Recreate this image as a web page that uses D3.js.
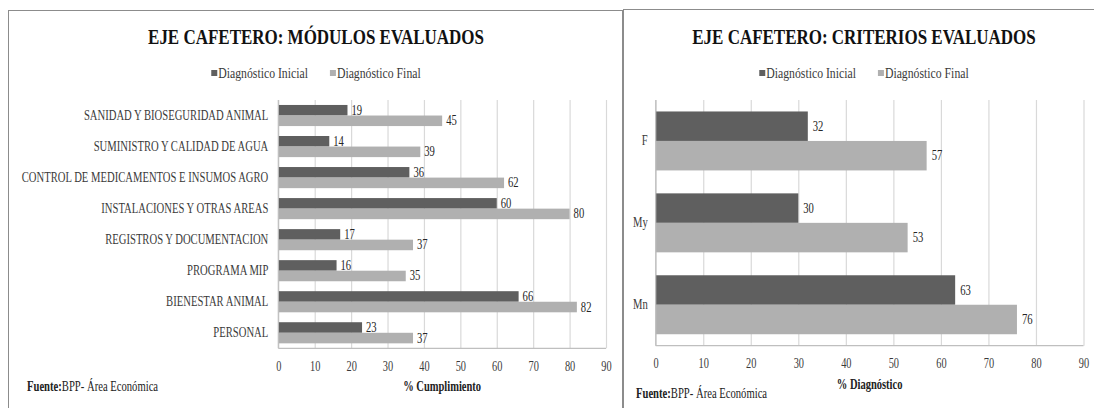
<!DOCTYPE html>
<html><head><meta charset="utf-8">
<script src="https://cdn.jsdelivr.net/npm/d3@7"></script>
<style>
html,body{margin:0;padding:0;background:#fff;}
svg{display:block;}
</style>
</head><body>
<svg id="c" width="1094" height="408"></svg>
<script>
// ---------- data ----------
const seriesNames = ["Diagnóstico Inicial", "Diagnóstico Final"];
const moduleCats = ["SANIDAD Y BIOSEGURIDAD ANIMAL","SUMINISTRO Y CALIDAD DE AGUA","CONTROL DE MEDICAMENTOS E INSUMOS AGRO","INSTALACIONES Y OTRAS AREAS","REGISTROS Y DOCUMENTACION","PROGRAMA MIP","BIENESTAR ANIMAL","PERSONAL"];
const moduleInicial = [19,14,36,60,17,16,66,23];
const moduleFinal   = [45,39,62,80,37,35,82,37];
const criteriaCats = ["F","My","Mn"];
const criteriaInicial = [32,30,63];
const criteriaFinal   = [57,53,76];
const xTicks = [0,10,20,30,40,50,60,70,80,90];

const FONT = '"Liberation Serif","Tinos","DejaVu Serif",serif';
const COLORS = ["#5f5f5f","#b0b0b0"];
const svg = d3.select("#c");

function txt(g, x, y, s, size, sx, opts={}) {
  const t = g.append("text")
    .attr("transform", `translate(${x},${y}) scale(${sx},1)`)
    .attr("font-size", size)
    .attr("font-family", FONT)
    .attr("fill", opts.fill || "#3a3a3a")
    .attr("text-anchor", opts.anchor || "start")
    .attr("dominant-baseline", "central")
    .attr("font-weight", opts.bold ? "bold" : "normal")
    .text(s);
  return t;
}

function panel(cfg) {
  const g = svg.append("g");
  g.append("rect").attr("x", cfg.box[0]+0.5).attr("y", cfg.box[1]+0.5)
    .attr("width", cfg.box[2]).attr("height", cfg.box[3])
    .attr("fill","#fff").attr("stroke","#8c8c8c").attr("stroke-width",1);

  // title
  txt(g, cfg.titleX, 37, cfg.title, 21.5, 0.79, {anchor:"middle", bold:true, fill:"#111"});

  // legend
  const lg = g.append("g");
  let cx = 0;
  const LSX = 0.84;
  seriesNames.forEach((n,i) => {
    const it = lg.append("g");
    it.append("rect").attr("x", 0).attr("y", -3).attr("width", 6).attr("height", 6).attr("fill", COLORS[i]);
    const t = txt(it, 7, 0, n, 14, LSX);
    const w = 7 + t.node().getComputedTextLength()*LSX;
    it.attr("transform", `translate(${cx},0)`);
    cx += w + 22;
  });
  const lw = cx - 22;
  lg.attr("transform", `translate(${cfg.titleX - lw/2},73)`);

  const [x0,x1] = cfg.xRange, [y0,y1] = cfg.yRange;
  const x = d3.scaleLinear().domain([0,90]).range([x0,x1]);
  const y = d3.scaleBand().domain(cfg.cats).range([y0,y1])
    .paddingInner(cfg.pad).paddingOuter(cfg.pad/2);
  const ys = d3.scaleBand().domain(seriesNames).range([0, y.bandwidth()]);

  // gridlines
  const grid = g.append("g").attr("transform",`translate(0,${y1})`)
    .call(d3.axisBottom(x).tickValues(xTicks).tickSize(-(y1-y0)).tickFormat(""));
  grid.select(".domain").remove();
  grid.selectAll("line").attr("stroke","#d9d9d9").attr("stroke-width",1.2);

  // bars
  const data = [];
  cfg.cats.forEach((c,i) => {
    data.push({c, s:seriesNames[0], v:cfg.a[i], k:0});
    data.push({c, s:seriesNames[1], v:cfg.b[i], k:1});
  });
  g.append("g").selectAll("rect").data(data).join("rect")
    .attr("x", x(0))
    .attr("y", d => y(d.c) + ys(d.s))
    .attr("width", d => x(d.v) - x(0))
    .attr("height", ys.bandwidth())
    .attr("fill", d => COLORS[d.k]);

  // value labels
  const lab = g.append("g");
  data.forEach(d => {
    txt(lab, x(d.v) + cfg.labGap, y(d.c) + ys(d.s) + ys.bandwidth()/2, String(d.v), 14, 0.76, {fill:"#262626"});
  });

  // axes lines
  g.append("line").attr("x1",x0).attr("x2",x0).attr("y1",y0).attr("y2",y1).attr("stroke","#bfbfbf").attr("stroke-width",1.2);
  g.append("line").attr("x1",x0).attr("x2",x1).attr("y1",y1).attr("y2",y1).attr("stroke","#bfbfbf").attr("stroke-width",1.2);

  // x tick labels
  const xa = g.append("g").attr("transform",`translate(0,${y1})`)
    .call(d3.axisBottom(x).tickValues(xTicks).tickSize(0).tickPadding(0).tickFormat(d3.format("d")));
  xa.attr("font-family", FONT);
  xa.select(".domain").remove();
  xa.selectAll("text")
    .attr("y", 18).attr("dy", null)
    .attr("dominant-baseline","central")
    .attr("transform", `scale(0.74,1)`)
    .attr("font-size", 14)
    .attr("font-family", FONT)
    .attr("fill", "#3a3a3a");

  // category labels
  const ca = g.append("g").attr("transform",`translate(${x0},0)`)
    .call(d3.axisLeft(y).tickSize(0).tickPadding(0));
  ca.attr("font-family", FONT);
  ca.select(".domain").remove();
  ca.selectAll("text")
    .attr("x", 0).attr("dy", null)
    .attr("dominant-baseline","central")
    .attr("transform", `translate(${-cfg.catGap},0) scale(0.76,1)`)
    .attr("font-size", 14)
    .attr("font-family", FONT)
    .attr("fill", "#3a3a3a");

  // axis title
  txt(g, (x0+x1)/2, cfg.axisTitleY, cfg.axisTitle, 14, 0.75, {anchor:"middle", bold:true, fill:"#222"});

  // source
  const src = g.append("text")
    .attr("transform", `translate(${cfg.srcX},${cfg.srcY}) scale(0.76,1)`)
    .attr("font-family", FONT)
    .attr("font-size", 14).attr("dominant-baseline","central").attr("fill","#222");
  src.append("tspan").attr("font-weight","bold").text("Fuente:");
  src.append("tspan").text("BPP- Área Económica");
}

panel({
  box:[8,10,614,420], title:"EJE CAFETERO: MÓDULOS EVALUADOS", titleX:316,
  xRange:[278.3,606], yRange:[100,348.3], cats:moduleCats, a:moduleInicial, b:moduleFinal,
  pad:0.32, labGap:4, catGap:10, axisTitle:"% Cumplimiento", axisTitleY:386,
  srcX:27, srcY:386
});
panel({
  box:[623,9,480,420], title:"EJE CAFETERO: CRITERIOS EVALUADOS", titleX:864,
  xRange:[655.7,1083.5], yRange:[100,345.7], cats:criteriaCats, a:criteriaInicial, b:criteriaFinal,
  pad:0.28, labGap:5, catGap:8, axisTitle:"% Diagnóstico", axisTitleY:384,
  srcX:636, srcY:393
});
</script>
</body></html>
